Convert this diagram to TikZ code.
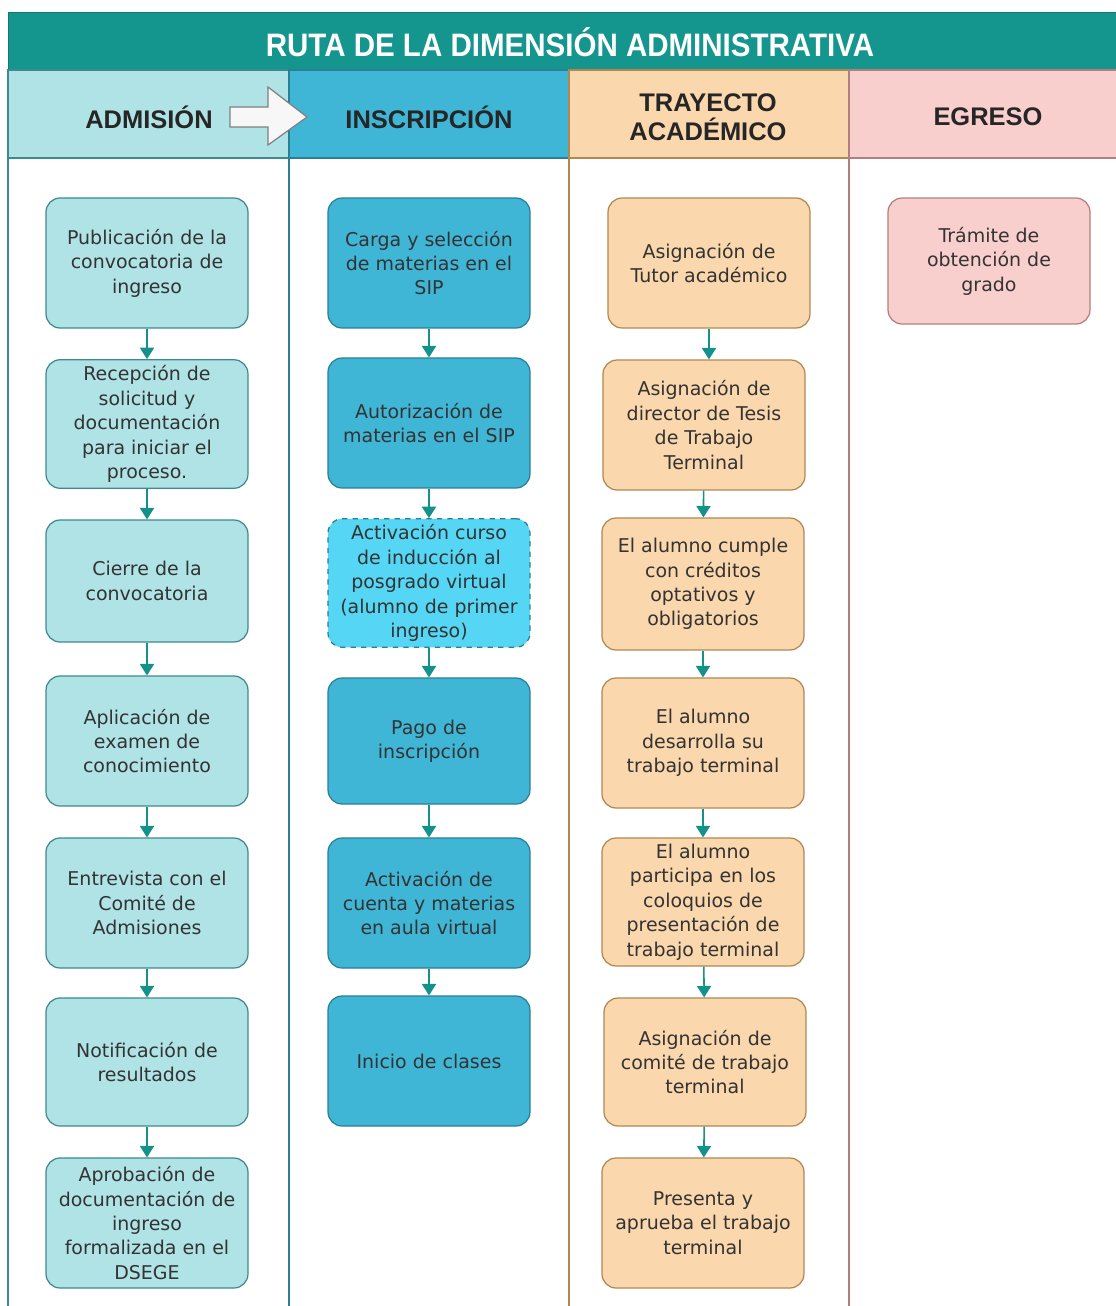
\documentclass[tikz,border=0pt]{standalone}
\usepackage{fontspec}
\setmainfont{DejaVu Sans}
\newfontfamily\headfont{Liberation Sans}
\usetikzlibrary{arrows.meta,positioning}
\definecolor{barteal}{HTML}{14968E}
\definecolor{barline}{HTML}{0E7A73}
\definecolor{admfill}{HTML}{B0E3E6}
\definecolor{admline}{HTML}{3E8A8E}
\definecolor{insfill}{HTML}{3FB6D6}
\definecolor{insline}{HTML}{2A7E96}
\definecolor{indfill}{HTML}{55D6F4}
\definecolor{trafill}{HTML}{FAD7AC}
\definecolor{traline}{HTML}{B08850}
\definecolor{egrfill}{HTML}{F8CFCD}
\definecolor{egrline}{HTML}{B0807E}
\definecolor{flowcol}{HTML}{13918A}
\begin{document}
\begin{tikzpicture}[x=0.02cm,y=-0.02cm,>={Triangle[width=8pt,length=6.5pt]},
  box/.style={draw,rounded corners=8pt,minimum width=4.04cm,align=center,text=black!80,line width=0.7pt,font=\fontsize{10.8}{13.9}\selectfont},
  adm/.style={box,fill=admfill,draw=admline},
  ins/.style={box,fill=insfill,draw=insline},
  tra/.style={box,fill=trafill,draw=traline},
  egr/.style={box,fill=egrfill,draw=egrline},
  head/.style={font=\headfont\bfseries\fontsize{14.5}{16.5}\selectfont,align=center,text=black!85},
  lane/.style={line width=0.9pt},
  flow/.style={->,draw=flowcol,line width=0.9pt}]
\useasboundingbox (0,0) rectangle (1116,1306);
\clip (0,0) rectangle (1116,1306);
\fill[white] (0,0) rectangle (1116,1306);
% title bar and lane heads
\fill[barteal,draw=barline] (8,12) rectangle (1130,70);
\fill[admfill,draw=admline,lane] (8,70) rectangle (289,158);
\fill[insfill,draw=insline,lane] (289,70) rectangle (569,158);
\fill[trafill,draw=traline,lane] (569,70) rectangle (849,158);
\fill[egrfill,draw=egrline,lane] (849,70) rectangle (1130,158);
\draw[admline,lane] (8,158) -- (8,1320);
\draw[insline,lane] (289,158) -- (289,1320);
\draw[traline,lane] (569,158) -- (569,1320);
\draw[egrline,lane] (849,158) -- (849,1320);
\node[font=\headfont\bfseries\fontsize{16.8}{18}\selectfont,text=white,yscale=1.1] (title) at (570,42) {RUTA DE LA DIMENSIÓN ADMINISTRATIVA};
\node[head] (hAdm) at (149,117) {ADMISIÓN};
\node[head] (hIns) at (429,117) {INSCRIPCIÓN};
\node[head] (hTra) at (708,117) {TRAYECTO\\ACADÉMICO};
\node[head] (hEgr) at (988,117) {EGRESO};
\draw[fill=white!94!gray,draw=gray,line width=0.7pt] (230,107) -- (268,107) -- (268,87) -- (307,117) -- (268,145) -- (268,127) -- (230,127) -- cycle;
% admision
\node[adm,minimum height=2.6cm] (a1) at (147,263) {Publicación de la\\convocatoria de\\ingreso};
\node[adm,minimum height=2.56cm] (a2) at (147,424) {Recepción de\\solicitud y\\documentación\\para iniciar el\\proceso.};
\node[adm,minimum height=2.44cm] (a3) at (147,581) {Cierre de la\\convocatoria};
\node[adm,minimum height=2.6cm] (a4) at (147,741) {Aplicación de\\examen de\\conocimiento};
\node[adm,minimum height=2.6cm] (a5) at (147,903) {Entrevista con el\\Comité de\\Admisiones};
\node[adm,minimum height=2.56cm] (a6) at (147,1062) {Notificación de\\resultados};
\node[adm,minimum height=2.6cm] (a7) at (147,1223) {Aprobación de\\documentación de\\ingreso\\formalizada en el\\DSEGE};
% inscripcion
\node[ins,minimum height=2.6cm] (i1) at (429,263) {Carga y selección\\de materias en el\\SIP};
\node[ins,minimum height=2.6cm] (i2) at (429,423) {Autorización de\\materias en el SIP};
\node[ins,minimum height=2.52cm,fill=indfill,dashed] (i3) at (429,583) {Activación curso\\de inducción al\\posgrado virtual\\(alumno de primer\\ingreso)};
\node[ins,minimum height=2.52cm] (i4) at (429,741) {Pago de\\inscripción};
\node[ins,minimum height=2.6cm] (i5) at (429,903) {Activación de\\cuenta y materias\\en aula virtual};
\node[ins,minimum height=2.6cm] (i6) at (429,1061) {Inicio de clases};
% trayecto academico
\node[tra,minimum height=2.6cm] (t1) at (709,263) {Asignación de\\Tutor académico};
\node[tra,minimum height=2.6cm] (t2) at (704,425) {Asignación de\\director de Tesis\\de Trabajo\\Terminal};
\node[tra,minimum height=2.64cm] (t3) at (703,584) {El alumno cumple\\con créditos\\optativos y\\obligatorios};
\node[tra,minimum height=2.6cm] (t4) at (703,743) {El alumno\\desarrolla su\\trabajo terminal};
\node[tra,minimum height=2.56cm] (t5) at (703,902) {El alumno\\participa en los\\coloquios de\\presentación de\\trabajo terminal};
\node[tra,minimum height=2.56cm] (t6) at (705,1062) {Asignación de\\comité de trabajo\\terminal};
\node[tra,minimum height=2.6cm] (t7) at (703,1223) {Presenta y\\aprueba el trabajo\\terminal};
% egreso
\node[egr,minimum height=2.52cm] (e1) at (989,261) {Trámite de\\obtención de\\grado};
\draw[flow] (a1) -- (a2);
\draw[flow] (a2) -- (a3);
\draw[flow] (a3) -- (a4);
\draw[flow] (a4) -- (a5);
\draw[flow] (a5) -- (a6);
\draw[flow] (a6) -- (a7);
\draw[flow] (i1) -- (i2);
\draw[flow] (i2) -- (i3);
\draw[flow] (i3) -- (i4);
\draw[flow] (i4) -- (i5);
\draw[flow] (i5) -- (i6);
\draw[flow] (t1) -- (t1 |- t2.north);
\draw[flow] (t2) -- (t3);
\draw[flow] (t3) -- (t4);
\draw[flow] (t4) -- (t5);
\draw[flow] (t5) -- (t6);
\draw[flow] (t6) -- (t7);
\end{tikzpicture}
\end{document}
